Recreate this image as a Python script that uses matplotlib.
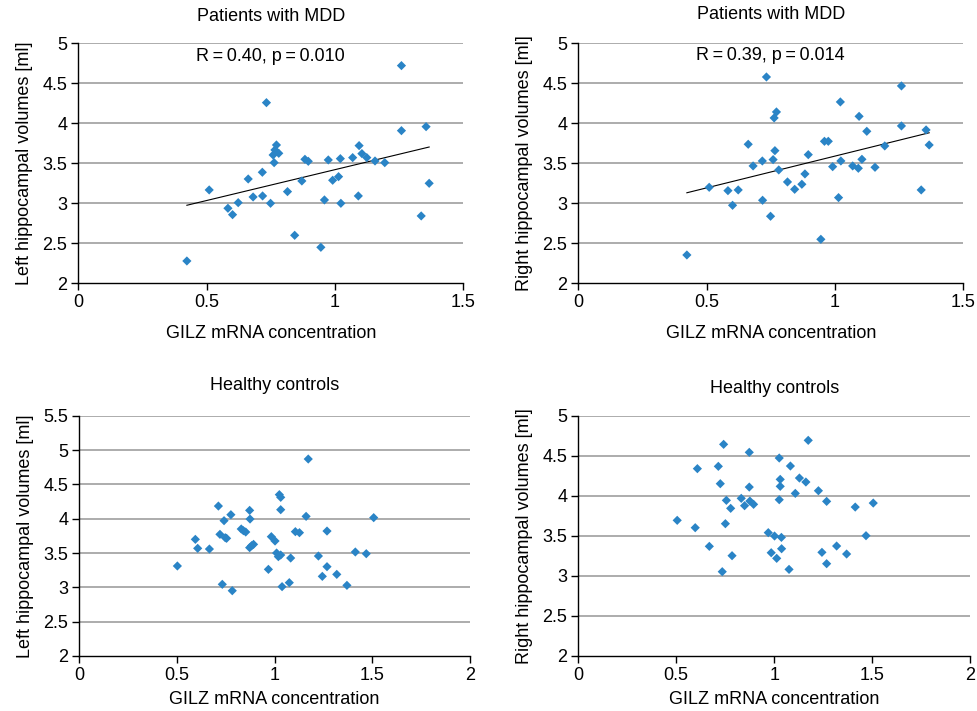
import numpy as np
import matplotlib
matplotlib.use('Agg')
import matplotlib.pyplot as plt

plt.rcParams['font.family'] = ['Liberation Sans', 'DejaVu Sans']

# GILZ mRNA concentration, patients with MDD (shared by both top panels)
gilz_mdd = [0.423, 0.510, 0.583, 0.601, 0.623, 0.662, 0.681, 0.717, 0.718, 0.733,
            0.749, 0.763, 0.759, 0.766, 0.772, 0.781, 0.815, 0.843, 0.871, 0.883,
            0.896, 0.945, 0.959, 0.974, 0.991, 1.014, 1.021, 1.023, 1.069, 1.091,
            1.094, 1.105, 1.124, 1.156, 1.194, 1.259, 1.259, 1.355, 1.367, 1.336]
mdd_left = [2.279, 3.167, 2.938, 2.858, 3.008, 3.304, 3.079, 3.388, 3.092, 4.258,
            3.000, 3.508, 3.604, 3.667, 3.729, 3.625, 3.146, 2.600, 3.279, 3.550,
            3.525, 2.450, 3.042, 3.542, 3.288, 3.333, 3.558, 3.000, 3.571, 3.092,
            3.721, 3.621, 3.571, 3.529, 3.508, 4.721, 3.908, 3.958, 3.250, 2.842]
mdd_right = [2.354, 3.200, 3.158, 2.975, 3.167, 3.738, 3.467, 3.529, 3.038, 4.579,
             2.838, 4.067, 3.546, 3.658, 4.142, 3.417, 3.267, 3.175, 3.238, 3.367,
             3.608, 2.550, 3.775, 3.775, 3.458, 3.071, 4.267, 3.529, 3.467, 3.438,
             4.087, 3.550, 3.900, 3.450, 3.717, 4.467, 3.967, 3.917, 3.729, 3.167]

# healthy controls
gilz_ctrl_l = [0.502, 0.594, 0.606, 0.666, 0.712, 0.720, 0.741, 0.747, 0.754, 0.732,
               0.783, 0.776, 0.829, 0.840, 0.852, 0.872, 0.874, 0.872, 0.882, 0.892,
               0.968, 0.983, 1.002, 1.010, 1.019, 1.031, 1.024, 1.031, 1.031, 1.172,
               1.161, 1.507, 1.106, 1.127, 1.268, 1.082, 1.224, 1.268, 1.244, 1.318,
               1.413, 1.469, 1.370, 1.075, 1.038]
ctrl_left = [3.311, 3.699, 3.568, 3.558, 4.184, 3.772, 3.971, 3.723, 3.714, 3.044,
             2.951, 4.058, 3.850, 3.825, 3.806, 4.121, 3.995, 3.578, 3.607, 3.626,
             3.262, 3.738, 3.675, 3.500, 3.447, 3.471, 4.350, 4.311, 4.131, 4.869,
             4.034, 4.015, 3.811, 3.796, 3.820, 3.427, 3.456, 3.301, 3.160, 3.189,
             3.515, 3.490, 3.029, 3.068, 3.010]
gilz_ctrl_r = [0.505, 0.597, 0.608, 0.669, 0.715, 0.725, 0.742, 0.735, 0.751, 0.756,
               0.778, 0.785, 0.832, 0.849, 0.873, 0.873, 0.876, 0.895, 0.970, 0.985,
               1.002, 1.013, 1.026, 1.083, 1.031, 1.031, 1.129, 1.162, 1.108, 1.026,
               1.174, 1.226, 1.268, 1.414, 1.506, 1.037, 1.038, 1.076, 1.244, 1.268,
               1.319, 1.370, 1.469]
ctrl_right = [3.692, 3.600, 4.338, 3.367, 4.367, 4.150, 4.642, 3.050, 3.650, 3.942,
              3.842, 3.250, 3.967, 3.875, 4.542, 4.108, 3.933, 3.892, 3.538, 3.287,
              3.496, 3.217, 4.471, 4.371, 4.204, 4.117, 4.221, 4.171, 4.029, 3.950,
              4.692, 4.062, 3.929, 3.858, 3.908, 3.479, 3.337, 3.079, 3.292, 3.150,
              3.371, 3.271, 3.500]

stats_left = 'R\u2009=\u20090.40, p\u2009=\u20090.010'
stats_right = 'R\u2009=\u20090.39, p\u2009=\u20090.014'

blue = '#2a84c6'
grid_col = '#a6a6a6'
fs = 13

fig = plt.figure(figsize=(9.77, 7.11), dpi=100)
W, H = 977, 711


def make_axes(l, t, r, b):
    return fig.add_axes([l / W, 1 - b / H, (r - l) / W, (b - t) / H])


def style(ax, xs, ys, xmax, ymax, ylabel, title, title_pad, xpad):
    ax.scatter(xs, ys, marker='D', s=22, color=blue, edgecolors='none', zorder=3)
    ax.set_xlim(0, xmax)
    ax.set_ylim(2, ymax)
    xt = np.arange(0, xmax + 0.01, 0.5)
    yt = np.arange(2, ymax + 0.01, 0.5)
    ax.set_xticks(xt)
    ax.set_yticks(yt)
    ax.set_xticklabels(['%g' % v for v in xt])
    ax.set_yticklabels(['%g' % v for v in yt])
    for v in yt[1:]:
        ax.axhline(v, color=grid_col, lw=1.3, zorder=1)
    for s in ['top', 'right']:
        ax.spines[s].set_visible(False)
    for s in ['left', 'bottom']:
        ax.spines[s].set_color('black')
        ax.spines[s].set_linewidth(1.0)
    ax.tick_params(direction='out', length=5, width=1.0, labelsize=fs, pad=3)
    ax.set_xlabel('GILZ mRNA concentration', fontsize=fs, labelpad=xpad)
    ax.set_ylabel(ylabel, fontsize=fs, labelpad=7)
    ax.set_title(title, fontsize=fs, pad=title_pad)


def trend(ax, xs, ys):
    k, d = np.polyfit(xs, ys, 1)
    xx = np.array([min(xs), max(xs)])
    ax.plot(xx, k * xx + d, color='black', lw=0.8, zorder=2)


ax1 = make_axes(78.3, 43.3, 463.3, 283.3)
style(ax1, gilz_mdd, mdd_left, 1.5, 5, 'Left hippocampal volumes [ml]', 'Patients with MDD', 16, 10)
trend(ax1, gilz_mdd, mdd_left)
ax1.text(0.75, 4.84, stats_left, fontsize=fs, ha='center', va='center')

ax2 = make_axes(578.3, 43.3, 963.3, 283.3)
style(ax2, gilz_mdd, mdd_right, 1.5, 5, 'Right hippocampal volumes [ml]', 'Patients with MDD', 17.5, 10)
trend(ax2, gilz_mdd, mdd_right)
ax2.text(0.75, 4.85, stats_right, fontsize=fs, ha='center', va='center')

ax3 = make_axes(79.3, 415.7, 470, 656)
style(ax3, gilz_ctrl_l, ctrl_left, 2, 5.5, 'Left hippocampal volumes [ml]', 'Healthy controls', 18.5, 5)

ax4 = make_axes(578.3, 415.7, 970, 655.7)
style(ax4, gilz_ctrl_r, ctrl_right, 2, 5, 'Right hippocampal volumes [ml]', 'Healthy controls', 16, 5)

fig.savefig('out.png', dpi=100)
